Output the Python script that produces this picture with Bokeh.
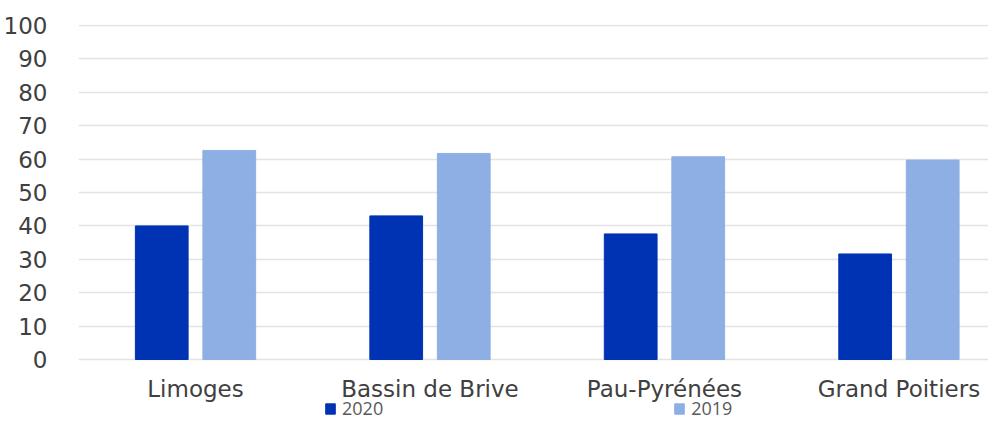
from bokeh.plotting import figure
from bokeh.models import ColumnDataSource, Range1d, FixedTicker, Legend, LegendItem
from bokeh.core.properties import value
from bokeh.transform import dodge
from bokeh.embed import file_html
from bokeh.resources import INLINE

categories = ["Limoges", "Bassin de Brive", "Pau-Pyrénées", "Grand Poitiers"]
values_2020 = [40.0, 43.0, 37.6, 31.6]
values_2019 = [62.6, 61.7, 60.7, 59.7]
y_ticks = [0, 10, 20, 30, 40, 50, 60, 70, 80, 90, 100]

FONT = "DejaVu Sans"
AXIS_COLOR = "#404040"

xs = list(range(len(categories)))
src = ColumnDataSource(dict(x=xs, v2020=values_2020, v2019=values_2019))
lab_src = ColumnDataSource(dict(x=xs, y=[-8.7] * len(categories), text=categories))

p = figure(width=988, height=420, output_backend="svg", toolbar_location=None,
           x_range=Range1d(-0.499, 3.382), y_range=Range1d(-18.26, 100.3),
           min_border_left=78, min_border_right=0, min_border_top=24, min_border_bottom=0)
p.outline_line_color = None
p.background_fill_color = "white"
p.border_fill_color = "white"

r1 = p.vbar(x=dodge("x", -0.144, range=p.x_range), top="v2020", bottom=0, width=0.225, source=src,
            fill_color="#0033B4", line_color="#0033B4")
r2 = p.vbar(x=dodge("x", 0.144, range=p.x_range), top="v2019", bottom=0, width=0.225, source=src,
            fill_color="#8DAFE4", line_color="#8DAFE4")

# category labels (x axis)
p.text(x="x", y="y", text="text", source=lab_src, text_align="center",
       text_baseline="alphabetic", text_font=value(FONT), text_font_size="23px",
       text_color=AXIS_COLOR)

p.xaxis.visible = False
p.xgrid.grid_line_color = None
p.ygrid.grid_line_color = "#e3e3e3"
p.ygrid.grid_line_width = 1.5
p.ygrid.ticker = FixedTicker(ticks=y_ticks)

p.yaxis.ticker = FixedTicker(ticks=y_ticks)
p.yaxis.axis_line_color = None
p.yaxis.major_tick_line_color = None
p.yaxis.minor_tick_line_color = None
p.yaxis.major_label_standoff = 25
p.yaxis.major_label_text_font = FONT
p.yaxis.major_label_text_font_size = "23px"
p.yaxis.major_label_text_color = AXIS_COLOR

legend = Legend(items=[LegendItem(label="2020", renderers=[r1]),
                       LegendItem(label="2019", renderers=[r2])],
                location=(246, 0), orientation="horizontal", spacing=290,
                padding=0, margin=0, border_line_color=None, background_fill_alpha=0,
                glyph_width=12, glyph_height=13, label_standoff=6, label_height=13,
                label_text_font="Open Sans", label_text_font_size="18px",
                label_text_color="#595959")
p.add_layout(legend, "center")

open("out.html", "w").write(file_html(p, INLINE))
